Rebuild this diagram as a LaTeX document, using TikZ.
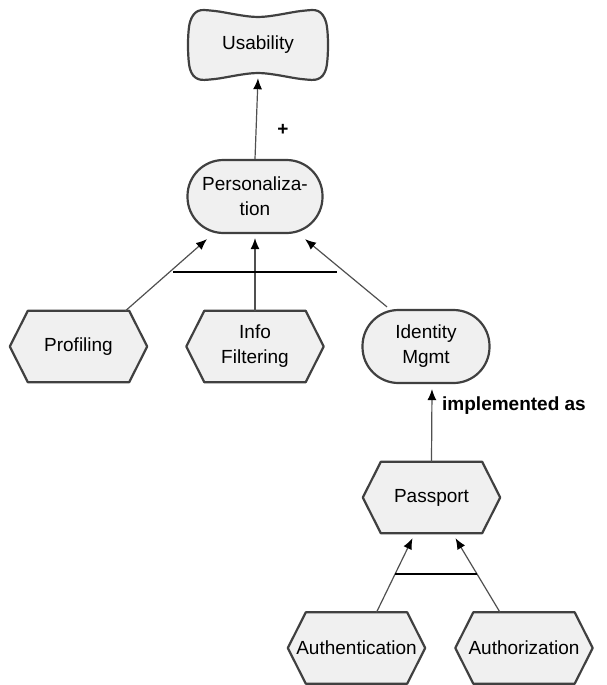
\documentclass[tikz,border=0pt]{standalone}
\usepackage{fontspec}
\setmainfont{Liberation Sans}
\usetikzlibrary{arrows.meta,calc,backgrounds}
\definecolor{boxfill}{HTML}{F0F0F0}
\definecolor{boxline}{HTML}{404040}
\definecolor{linkgray}{HTML}{505050}
\tikzset{
  txt/.style={font=\fontsize{19}{25}\selectfont, align=center, inner sep=0pt},
  boxshape/.style={draw=boxline, line width=2.2pt, fill=boxfill, line join=round},
  softgoal/.style={txt, boxshape, rectangle, rounded corners=36pt},
  hexlabel/.style={txt, rectangle, minimum width=137pt, minimum height=71pt},
  link/.style={draw=linkgray, line width=1.2pt, -{Latex[length=11pt,width=9pt,color=black]}},
  andbar/.style={draw=black, line width=1.2pt},
  tag/.style={font=\bfseries\fontsize{19}{25}\selectfont, inner sep=0pt}
}
% hexagonal task node: name, position, text
\newcommand\hexbox[3]{%
  \node[hexlabel] (#1) at (#2) {#3};
  \begin{scope}[on background layer]
    \draw[boxshape] (#1.west) -- ([xshift=18pt]#1.north west)
      -- ([xshift=-18pt]#1.north east) -- (#1.east)
      -- ([xshift=-18pt]#1.south east) -- ([xshift=18pt]#1.south west) -- cycle;
  \end{scope}}
\begin{document}
\begin{tikzpicture}[x=1pt,y=-1pt]
\useasboundingbox (0,0) rectangle (607,685);

% wavy soft-goal outline
\draw[boxshape] plot[smooth cycle, tension=0.55] coordinates {
  (215,11) (258,17) (301,11) (318,11) (326,22) (328,45) (326,69) (318,79) (301,79)
  (258,73) (215,79) (198,79) (190,69) (188,45) (190,22) (198,11)};
\node[txt, minimum width=140pt, minimum height=66pt] (usab) at (258,45) {Usability};

\node[softgoal, minimum width=135pt, minimum height=73pt] (pers) at (255,196.5) {Personaliza-\\tion};
\node[softgoal, minimum width=127pt, minimum height=73pt] (idm) at (426,346.5) {Identity\\Mgmt};

\hexbox{prof}{78.5,346.5}{Profiling}
\hexbox{filt}{255,346.5}{Info\\Filtering}
\hexbox{pass}{431.5,497.5}{Passport}
\hexbox{auth}{356.5,648}{Authentication}
\hexbox{authz}{524,648}{Authorization}

% contributions and decompositions
\draw[link] (pers.north) -- (usab.south);
\node[tag] (plus) at (283,130) {+};

\draw[link] ($(prof.north)+(47,0)$) -- ($(pers.south)+(-48,5)$);
\draw[link] (filt.north) -- ($(pers.south)+(0,4)$);
\draw[link] ($(idm.north)+(-39,-2)$) -- ($(pers.south)+(50,5)$);
\draw[andbar] (173,272) -- (337,272);

\draw[link] (pass.north) -- ($(idm.south)+(6,5)$);
\node[tag, anchor=west] (impl) at (442,406) {implemented as};

\draw[link] ($(auth.north)+(20,0)$) -- ($(pass.south)+(-19,5)$);
\draw[link] ($(authz.north)+(-24,0)$) -- ($(pass.south)+(24,5)$);
\draw[andbar] (395,574) -- (477,574);
\end{tikzpicture}
\end{document}
